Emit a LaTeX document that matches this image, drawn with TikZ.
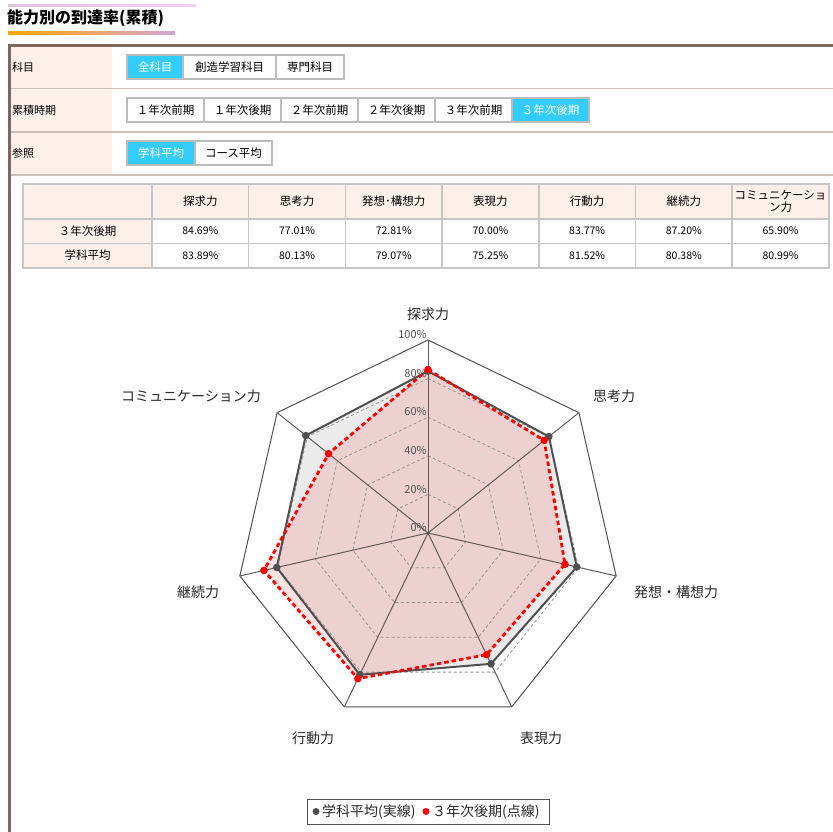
\documentclass[tikz,border=0pt]{standalone}
\usepackage{fontspec}
\setmainfont{Noto Sans CJK JP}
\usetikzlibrary{positioning}

\definecolor{framebrown}{RGB}{122,104,94}
\definecolor{rulegray}{RGB}{200,190,186}
\definecolor{headpink}{RGB}{253,240,235}
\definecolor{selcyan}{RGB}{51,204,255}
\definecolor{btnborder}{RGB}{188,188,188}
\definecolor{cellborder}{RGB}{198,198,198}
\definecolor{avggray}{RGB}{80,80,80}
\definecolor{gridgray}{RGB}{150,145,145}
\definecolor{spokegray}{RGB}{100,90,90}
\definecolor{labelgray}{RGB}{40,40,40}

\tikzset{
	btn/.style={draw=btnborder, line width=1.5pt, minimum height=24pt, inner sep=0pt, outer sep=0pt, font=\fontsize{11.5}{12}\selectfont},
	btnon/.style={btn, fill=selcyan, text=white},
	rowlabel/.style={anchor=west, inner sep=0pt, font=\fontsize{11}{12}\selectfont},
	cell/.style={draw=cellborder, line width=1.5pt, minimum width=96.7pt, minimum height=24.5pt, inner sep=0pt, outer sep=0pt, font=\fontsize{10.5}{12}\selectfont},
	headcell/.style={cell, fill=headpink, align=center, font=\fontsize{11.5}{11.5}\selectfont},
	axislabel/.style={font=\fontsize{14}{15}\selectfont, text=labelgray, inner sep=0pt},
	pctlabel/.style={anchor=south east, inner sep=1pt, font=\fontsize{11}{12}\selectfont, text=avggray},
	keylabel/.style={anchor=west, inner sep=0pt, font=\fontsize{14}{15}\selectfont, text=labelgray},
	avgdot/.style={fill=avggray, draw=none},
	nowdot/.style={fill=red, draw=none},
}

\begin{document}
\begin{tikzpicture}[x=1pt, y=-1pt]
	\fill[white] (0,0) rectangle (833,832);
	\useasboundingbox (0,0) rectangle (833,832);

	% title with its two decorative strokes
	\shade[left color=violet!25, right color=magenta!20] (8,4.5) rectangle (196,6.5);
	\shade[left color=orange!70!yellow, right color=violet!35] (8,31.5) rectangle (175,34.5);
	\node[anchor=west, inner sep=0pt, font=\fontsize{16}{17}\selectfont\bfseries] (title) at (7,18) {能力別の到達率(累積)};

	% filter rows
	\fill[headpink] (10,46) rectangle (112,175);
	\foreach \y in {88.5,132,175}
		\draw[rulegray, line width=1.2pt] (10,\y) -- (833,\y);
	\draw[framebrown, line width=3pt] (9.5,832) -- (9.5,45.5) -- (833,45.5);

	\node[rowlabel] (subj) at (12,67) {科目};
	\node[rowlabel] (term) at (12,110) {累積時期};
	\node[rowlabel] (refer) at (12,153) {参照};

	\node[btnon, minimum width=56pt, anchor=west] (allsubj) at (127,67) {全科目};
	\node[btn, minimum width=93pt, right=0pt of allsubj] (creative) {創造学習科目};
	\node[btn, minimum width=68pt, right=0pt of creative] (major) {専門科目};

	\node[btn, minimum width=77pt, anchor=west] (yonef) at (127,110) {１年次前期};
	\node[btn, minimum width=77pt, right=0pt of yonef] (yonel) {１年次後期};
	\node[btn, minimum width=77pt, right=0pt of yonel] (ytwof) {２年次前期};
	\node[btn, minimum width=77pt, right=0pt of ytwof] (ytwol) {２年次後期};
	\node[btn, minimum width=77pt, right=0pt of ytwol] (ythreef) {３年次前期};
	\node[btnon, minimum width=77pt, right=0pt of ythreef] (ythreel) {３年次後期};

	\node[btnon, minimum width=68pt, anchor=west] (dept) at (127,153) {学科平均};
	\node[btn, minimum width=77pt, right=0pt of dept] (course) {コース平均};

	% table
	\node[headcell, minimum width=129pt, minimum height=35pt] (h0) at (87.5,201.5) {};
	\node[headcell, minimum width=129pt] (r0) at (87.5,231) {３年次後期};
	\node[headcell, minimum width=129pt] (s0) at (87.5,255.5) {学科平均};
	\foreach \name [count=\i] in {探求力,思考力,発想･構想力,表現力,行動力,継続力,{コミュニケーショ\\ン力}}
		\node[headcell, minimum height=35pt] (h\i) at ({152+96.7*(\i-0.5)},201.5) {\name};
	\foreach \v [count=\i] in {84.69\%,77.01\%,72.81\%,70.00\%,83.77\%,87.20\%,65.90\%}
		\node[cell] (r\i) at ({152+96.7*(\i-0.5)},231) {\v};
	\foreach \v [count=\i] in {83.89\%,80.13\%,79.07\%,75.25\%,81.52\%,80.38\%,80.99\%}
		\node[cell] (s\i) at ({152+96.7*(\i-0.5)},255.5) {\v};

	% radar chart
	\begin{scope}[shift={(428,533)}]
		\coordinate (o) at (0,0);
		\foreach \v [count=\k from 0] in {83.89,80.13,79.07,75.25,81.52,80.38,80.99}
			\coordinate (a\k) at ({90-\k*360/7}:{\v*1.93pt});
		\foreach \v [count=\k from 0] in {84.69,77.01,72.81,70.00,83.77,87.20,65.90}
			\coordinate (b\k) at ({90-\k*360/7}:{\v*1.93pt});
		\foreach \k in {0,...,6}
			\coordinate (t\k) at ({90-\k*360/7}:193pt);

		\fill[black!8] (a0) \foreach \k in {1,...,6}{ -- (a\k)} -- cycle;
		\fill[red, fill opacity=0.11] (b0) \foreach \k in {1,...,6}{ -- (b\k)} -- cycle;

		\foreach \p in {20,40,60,80}
			\draw[gridgray, line width=0.8pt, dash pattern=on 3pt off 2.5pt]
				(90:{\p*1.93pt}) \foreach \k in {1,...,6}{ -- ({90-\k*360/7}:{\p*1.93pt})} -- cycle;
		\draw[avggray, line width=1pt] (t0) \foreach \k in {1,...,6}{ -- (t\k)} -- cycle;
		\foreach \k in {0,...,6}
			\draw[spokegray, line width=1pt] (o) -- (t\k);
		\fill[avggray] (o) circle (1.5pt);

		\draw[avggray, line width=2pt, line join=round] (a0) \foreach \k in {1,...,6}{ -- (a\k)} -- cycle;
		\foreach \k in {0,...,6}
			\fill[avgdot] (a\k) circle (3.8pt);
		\draw[red, line width=2.8pt, dash pattern=on 4.5pt off 3pt] (b0) \foreach \k in {1,...,6}{ -- (b\k)} -- cycle;
		\foreach \k in {0,...,6}
			\fill[nowdot] (b\k) circle (3.8pt);

		\foreach \p in {0,20,...,100}
			\node[pctlabel] (pct\p) at (90:{\p*1.93pt}) {\p\%};
	\end{scope}

	\node[axislabel] (inquiry) at (428,314) {探求力};
	\node[axislabel] (thinking) at (614,396) {思考力};
	\node[axislabel] (concept) at (676,592) {発想・構想力};
	\node[axislabel] (express) at (541,738) {表現力};
	\node[axislabel] (action) at (313,738) {行動力};
	\node[axislabel] (persist) at (198,592) {継続力};
	\node[axislabel] (commun) at (191,396) {コミュニケーション力};

	% legend
	\node[draw=avggray, line width=1pt, minimum width=242pt, minimum height=25pt, inner sep=0pt] (legend) at (428,811.5) {};
	\fill[avgdot] (316,811.5) circle (3.5pt);
	\node[keylabel] (avgkey) at (322,811.5) {学科平均(実線)};
	\fill[nowdot] (426,811.5) circle (3.5pt);
	\node[keylabel] (nowkey) at (432,811.5) {３年次後期(点線)};
\end{tikzpicture}
\end{document}
